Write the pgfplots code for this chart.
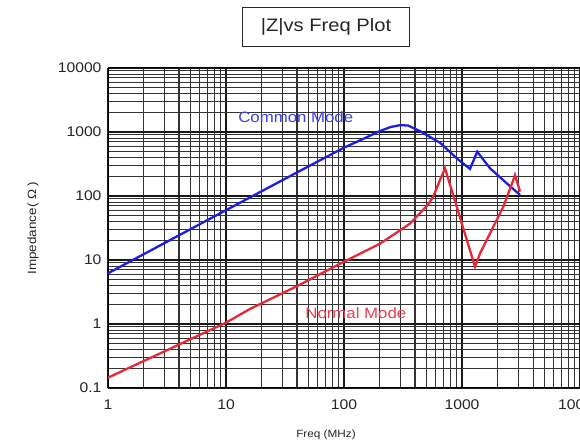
\documentclass[border=0pt]{standalone}
\usepackage{fontspec}
\setmainfont{Liberation Sans}[FakeStretch=1.12]
\usepackage{pgfplots}
\pgfplotsset{compat=1.18}
\definecolor{cmblue}{RGB}{30,30,225}
\definecolor{nmred}{RGB}{232,40,55}
\definecolor{cmtext}{RGB}{60,60,235}
\definecolor{nmtext}{RGB}{238,60,80}
\begin{document}
\begin{tikzpicture}
\useasboundingbox (-108pt,-55pt) rectangle (472pt,388pt);
\begin{axis}[
  xmode=log, ymode=log,
  scale only axis, width=472pt, height=320pt,
  xmin=1, xmax=10000, ymin=0.1, ymax=10000,
  xtick={1,10,100,1000,10000}, xticklabels={1,10,100,1000,10000},
  ytick={0.1,1,10,100,1000,10000}, yticklabels={0.1,1,10,100,1000,10000},
  minor xtick={2,3,4,5,6,7,8,9,20,30,40,50,60,70,80,90,200,300,400,500,600,700,800,900,2000,3000,4000,5000,6000,7000,8000,9000},
  minor ytick={0.2,0.3,0.4,0.5,0.6,0.7,0.8,0.9,2,3,4,5,6,7,8,9,20,30,40,50,60,70,80,90,200,300,400,500,600,700,800,900,2000,3000,4000,5000,6000,7000,8000,9000},
  grid=both,
  major grid style={black!90, line width=1.2pt},
  minor grid style={black!80, line width=1.1pt},
  major tick length=0pt, minor tick length=0pt,
  axis line style={black, line width=1pt},
  tick label style={font=\fontsize{14}{16}\selectfont, text=black!85},
  xticklabel style={yshift=-8pt},
  yticklabel style={xshift=-3pt},
]
% Common Mode
\addplot[cmblue, line width=2.3pt] coordinates {
  (1,6.2) (10,60) (42,245) (100,570) (150,800) (200,1030) (250,1200)
  (300,1280) (350,1260) (441,1030) (651,680) (902,388) (1169,265)
  (1346,492) (1727,271) (2393,158) (3102,104)
};
% Normal Mode
\addplot[nmred, line width=2.3pt] coordinates {
  (1,0.145) (10,1.05) (16,1.72) (40,3.9) (92,8.7) (202,18) (298,29)
  (362,37) (441,54) (520,75) (571,98) (651,178) (718,271)
  (1288,7.85) (1422,12.7) (1727,26) (2239,68) (2722,178) (2813,213) (3102,117)
};
\node[text=cmtext, font=\fontsize{15}{17}\selectfont] at (axis cs:39,1714) {Common Mode};
\node[text=nmtext, font=\fontsize{15}{17}\selectfont] at (axis cs:126,1.49) {Normal Mode};
\end{axis}
\node[draw=black!85, line width=1.2pt, minimum width=167pt, minimum height=39pt,
      font=\fontsize{18}{20}\selectfont, text=black!85] at (218pt,361pt) {|Z|vs Freq Plot};
\node[rotate=90, font=\fontsize{12}{14}\selectfont, text=black!85] at (-75pt,160pt) {Impedance( Ω )};
\node[font=\fontsize{10.5}{12}\selectfont, text=black!85] at (218pt,-47pt) {Freq (MHz)};
\end{tikzpicture}
\end{document}
